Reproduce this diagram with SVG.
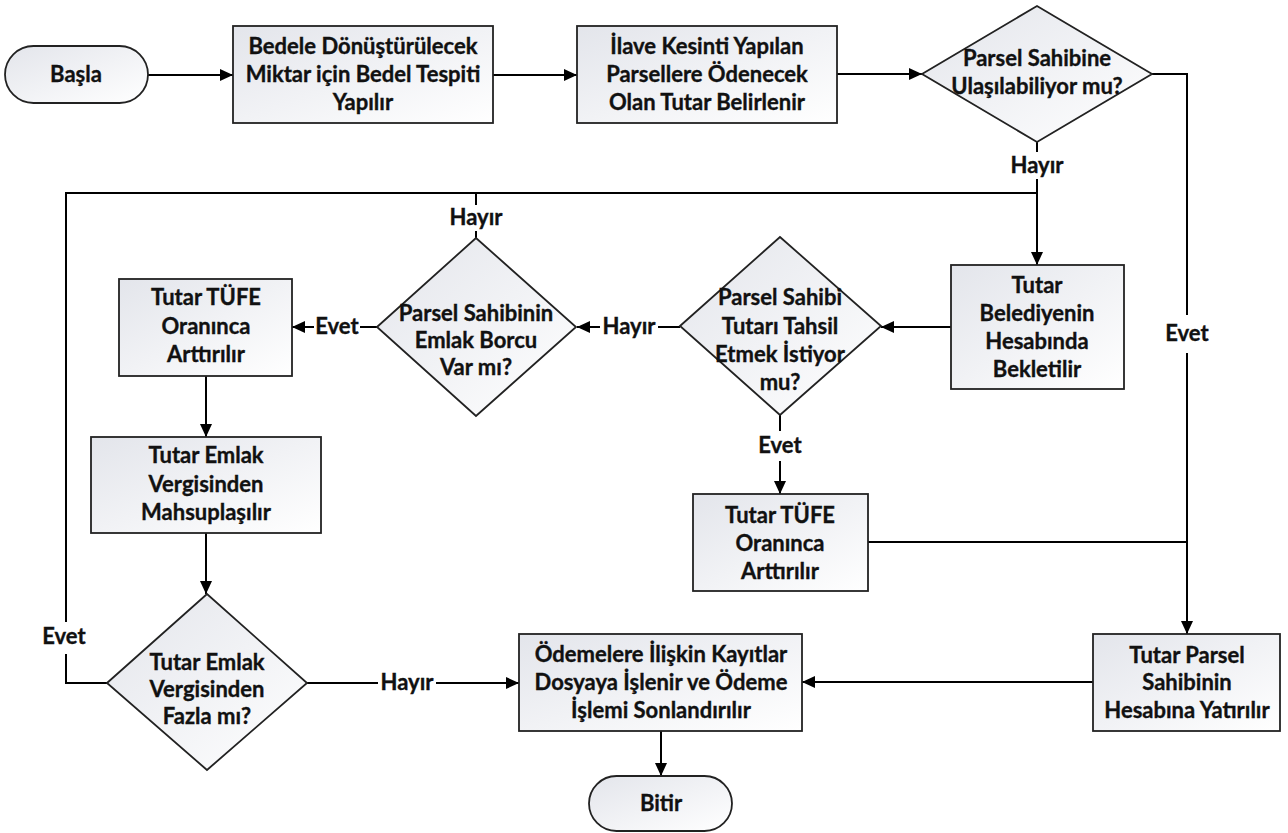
<svg xmlns="http://www.w3.org/2000/svg" width="1288" height="833" viewBox="0 0 1288 833">
<defs>
<linearGradient id="g" x1="0" y1="0" x2="1" y2="1">
<stop offset="0" stop-color="#e3e5eb"/>
<stop offset="1" stop-color="#ffffff"/>
</linearGradient>
<marker id="ah" markerUnits="userSpaceOnUse" markerWidth="14" markerHeight="12" refX="13" refY="6" orient="auto">
<path d="M0,0 L13,6 L0,12 z" fill="#000"/>
</marker>
</defs>
<style>
.n{fill:url(#g);stroke:#222;stroke-width:1.8}
.c{fill:none;stroke:#000;stroke-width:2}
.a{marker-end:url(#ah)}
.t{font-family:Lato,"Liberation Sans",sans-serif;font-weight:bold;font-size:22px;fill:#111;stroke:#111;stroke-width:0.35;text-anchor:middle}
.bg{fill:#fff}
</style>
<rect width="1288" height="833" fill="#fff"/>
<g id="connectors">
<path class="c a" d="M148,75 H233"/>
<path class="c a" d="M493,75 H577"/>
<path class="c a" d="M837,74 H922"/>
<path class="c a" d="M1152,74 H1187 V634"/>
<path class="c a" d="M1037,142 V265"/>
<path class="c" d="M476,238 V193 H1037"/>
<path class="c a" d="M951,327 H881"/>
<path class="c a" d="M680,327 H577"/>
<path class="c a" d="M377,327 H292"/>
<path class="c a" d="M780,415 V494"/>
<path class="c" d="M868,542 H1187"/>
<path class="c a" d="M1093,682 H802"/>
<path class="c a" d="M206,376 V437"/>
<path class="c a" d="M206,533 V594"/>
<path class="c" d="M107,683 H66 V193 H476"/>
<path class="c a" d="M307,683 H519"/>
<path class="c a" d="M661,731 V776"/>
<rect class="bg" x="1008" y="152" width="58" height="27"/>
<text class="t" x="1037" y="173">Hayır</text>
<rect class="bg" x="447" y="205" width="58" height="26"/>
<text class="t" x="476" y="225">Hayır</text>
<rect class="bg" x="314" y="314" width="46" height="26"/>
<text class="t" x="337" y="334">Evet</text>
<rect class="bg" x="600" y="314" width="58" height="26"/>
<text class="t" x="629" y="334">Hayır</text>
<rect class="bg" x="757" y="431" width="46" height="30"/>
<text class="t" x="780" y="453">Evet</text>
<rect class="bg" x="1164" y="315" width="46" height="38"/>
<text class="t" x="1187" y="341">Evet</text>
<rect class="bg" x="41" y="622" width="46" height="32"/>
<text class="t" x="64" y="644">Evet</text>
<rect class="bg" x="378" y="670" width="58" height="26"/>
<text class="t" x="407" y="690">Hayır</text>
</g>
<g id="basla">
<rect class="n" x="5" y="46" width="143" height="57" rx="28.5"/>
<text class="t" x="76" y="82">Başla</text>
</g>
<g id="bedel-tespiti">
<rect class="n" x="233" y="26" width="260" height="97"/>
<text class="t" x="363" y="54">Bedele Dönüştürülecek</text>
<text class="t" x="363" y="82">Miktar için Bedel Tespiti</text>
<text class="t" x="363" y="110">Yapılır</text>
</g>
<g id="tutar-belirlenir">
<rect class="n" x="577" y="26" width="260" height="97"/>
<text class="t" x="707" y="54">İlave Kesinti Yapılan</text>
<text class="t" x="707" y="82">Parsellere Ödenecek</text>
<text class="t" x="707" y="110">Olan Tutar Belirlenir</text>
</g>
<g id="ulasilabiliyor">
<path class="n" d="M922,74 L1037,6 L1152,74 L1037,142 Z"/>
<text class="t" x="1037" y="66">Parsel Sahibine</text>
<text class="t" x="1037" y="94">Ulaşılabiliyor mu?</text>
</g>
<g id="belediye-hesabi">
<rect class="n" x="951" y="265" width="173" height="124"/>
<text class="t" x="1037" y="293">Tutar</text>
<text class="t" x="1037" y="321">Belediyenin</text>
<text class="t" x="1037" y="349">Hesabında</text>
<text class="t" x="1037" y="377">Bekletilir</text>
</g>
<g id="tahsil-istiyor">
<path class="n" d="M680,326 L780,237 L881,326 L780,415 Z"/>
<text class="t" x="780" y="305">Parsel Sahibi</text>
<text class="t" x="780" y="334">Tutarı Tahsil</text>
<text class="t" x="780" y="362">Etmek İstiyor</text>
<text class="t" x="780" y="390">mu?</text>
</g>
<g id="emlak-borcu">
<path class="n" d="M377,327 L476,238 L576,327 L476,416 Z"/>
<text class="t" x="476" y="321">Parsel Sahibinin</text>
<text class="t" x="476" y="348">Emlak Borcu</text>
<text class="t" x="476" y="375">Var mı?</text>
</g>
<g id="tufe-1">
<rect class="n" x="119" y="279" width="173" height="97"/>
<text class="t" x="206" y="305">Tutar TÜFE</text>
<text class="t" x="206" y="334">Oranınca</text>
<text class="t" x="206" y="362">Arttırılır</text>
</g>
<g id="mahsup">
<rect class="n" x="91" y="437" width="230" height="96"/>
<text class="t" x="206" y="463">Tutar Emlak</text>
<text class="t" x="206" y="492">Vergisinden</text>
<text class="t" x="206" y="520">Mahsuplaşılır</text>
</g>
<g id="fazla-mi">
<path class="n" d="M107,683 L207,594 L307,683 L207,770 Z"/>
<text class="t" x="207" y="670">Tutar Emlak</text>
<text class="t" x="207" y="697">Vergisinden</text>
<text class="t" x="207" y="724">Fazla mı?</text>
</g>
<g id="tufe-2">
<rect class="n" x="693" y="494" width="175" height="97"/>
<text class="t" x="780" y="523">Tutar TÜFE</text>
<text class="t" x="780" y="551">Oranınca</text>
<text class="t" x="780" y="579">Arttırılır</text>
</g>
<g id="parsel-hesabi">
<rect class="n" x="1093" y="634" width="187" height="97"/>
<text class="t" x="1187" y="663">Tutar Parsel</text>
<text class="t" x="1187" y="690">Sahibinin</text>
<text class="t" x="1187" y="718">Hesabına Yatırılır</text>
</g>
<g id="kayitlar">
<rect class="n" x="519" y="634" width="283" height="97"/>
<text class="t" x="661" y="662">Ödemelere İlişkin Kayıtlar</text>
<text class="t" x="661" y="690">Dosyaya İşlenir ve Ödeme</text>
<text class="t" x="661" y="718">İşlemi Sonlandırılır</text>
</g>
<g id="bitir">
<rect class="n" x="589" y="776" width="143" height="55" rx="27.5"/>
<text class="t" x="661" y="811">Bitir</text>
</g>
</svg>
